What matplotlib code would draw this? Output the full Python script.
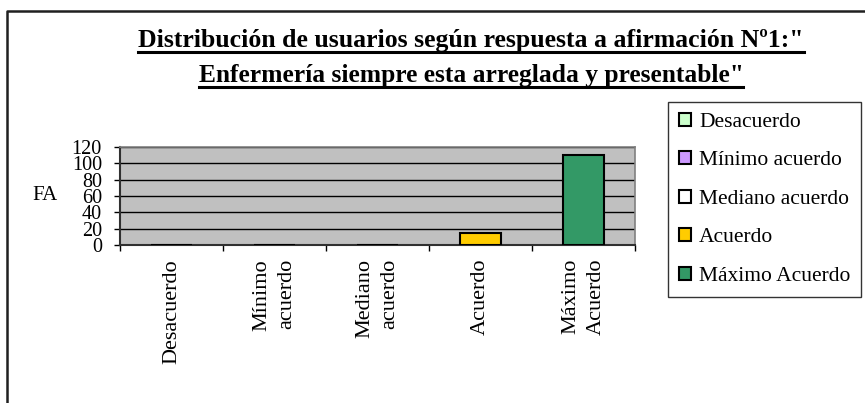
import matplotlib.pyplot as plt
from matplotlib.lines import Line2D

plt.rcParams['font.family'] = ['Liberation Serif', 'DejaVu Serif']

categorias = ['Desacuerdo', 'Mínimo\nacuerdo', 'Mediano\nacuerdo', 'Acuerdo', 'Máximo\nAcuerdo']
series = ['Desacuerdo', 'Mínimo acuerdo', 'Mediano acuerdo', 'Acuerdo', 'Máximo Acuerdo']
valores = [0, 0, 0, 15, 110]
colores = ['#CCFFCC', '#CC99FF', '#FFFFFF', '#FFCC00', '#339966']
yticks = [0, 20, 40, 60, 80, 100, 120]
titulo = ['Distribución de usuarios según respuesta a afirmación Nº1:"',
          'Enfermería siempre esta arreglada y presentable"']

W, H = 865, 403
fig = plt.figure(figsize=(W / 100, H / 100), dpi=100)
ax = fig.add_axes([120 / W, 1 - 245 / H, 515 / W, 98 / H])

# barras (una serie por categoría)
for i, (s, v, c) in enumerate(zip(series, valores, colores)):
    ax.bar(i, v, width=0.4, color=c, edgecolor='black', linewidth=1.5,
           label=s, zorder=3)

ax.set_xlim(-0.5, len(categorias) - 0.5)
ax.set_ylim(0, 120)
ax.set_facecolor('#C0C0C0')
ax.set_yticks(yticks)
ax.set_yticklabels([str(t) for t in yticks], fontsize=14.5)
ax.yaxis.grid(True, color='black', linewidth=1, zorder=1)
ax.set_axisbelow(True)
ax.tick_params(axis='y', direction='out', length=4, width=1, pad=9)

ax.set_xticks(range(len(categorias)))
ax.set_xticklabels(categorias, rotation=90, fontsize=16, va='top',
                   ha='center', multialignment='right', linespacing=1.45)
ax.set_xticks([i - 0.5 for i in range(len(categorias) + 1)], minor=True)
ax.tick_params(axis='x', which='major', length=0, pad=10)
ax.tick_params(axis='x', which='minor', direction='out', length=4, width=1)

for lado in ['top', 'right']:
    ax.spines[lado].set_color('#808080')
    ax.spines[lado].set_linewidth(1.2)
for lado in ['left', 'bottom']:
    ax.spines[lado].set_color('#303030')
    ax.spines[lado].set_linewidth(1.5)

fig.text(45 / W, 1 - 195 / H, 'FA', fontsize=15, ha='center', va='center')

leg = fig.legend(loc='upper left', bbox_to_anchor=(668 / W, 1 - 102 / H),
                 fontsize=15.5, frameon=True, fancybox=False, edgecolor='black',
                 handlelength=0.55, handleheight=0.55, handletextpad=0.4,
                 labelspacing=0.9, borderpad=0.5, borderaxespad=0)
leg.get_frame().set_linewidth(1)

# titulo subrayado
fig.canvas.draw()
rend = fig.canvas.get_renderer()
bases = [47, 82]
anchos = [665, 546]
for linea, base, ancho in zip(titulo, bases, anchos):
    t = fig.text(471 / W, 1 - base / H, linea, fontsize=16, fontweight='bold',
                 ha='center', va='baseline')
    w = t.get_window_extent(rend).width
    t.set_fontsize(16 * ancho / w)
fig.canvas.draw()
for t, base in zip(fig.texts[-2:], bases):
    bb = t.get_window_extent(rend)
    fig.add_artist(Line2D([bb.x0 / W, bb.x1 / W], [1 - (base + 5) / H] * 2,
                          transform=fig.transFigure, color='black', linewidth=2.2))

# borde exterior
fig.add_artist(Line2D([7.5 / W, 7.5 / W, 1], [0, 1 - 11 / H, 1 - 11 / H],
                      transform=fig.transFigure, color='#202020', linewidth=1.8))

fig.savefig('out.png', dpi=100)
